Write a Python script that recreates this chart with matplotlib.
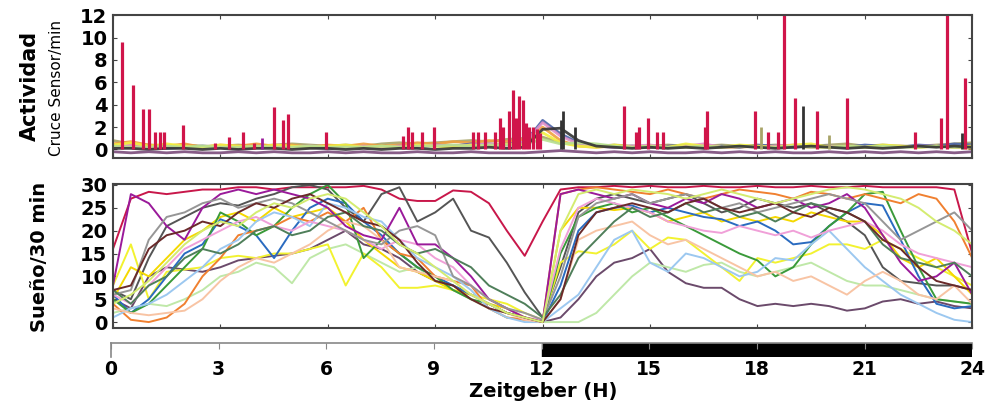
import numpy as np
import matplotlib
matplotlib.use("Agg")
import matplotlib.pyplot as plt

# ---- data -------------------------------------------------------------
hours = np.arange(0, 24.01, 0.5)  # half-hour grid, 49 points

# sleep (min per 30 min), one series per fly
sleep = {
    "#c8174a": [16, 27, 28.5, 28, 28.5, 29, 29, 29.5, 29.5, 29, 29.5, 29.5, 29.5, 29.5, 29.8, 29, 27, 26.5, 26.5, 28.8, 28.5, 26, 20, 14.5,
                22, 29, 29.5, 29.5, 29.8, 29.5, 29.8, 29.5, 29.5, 29.8, 29.5, 29.5, 29.8, 29.5, 29.5, 29.8, 29.5, 29.5, 29.8, 29.5, 29.5, 29.5, 29.5, 29, 15],
    "#555555": [7, 5, 14, 21, 23, 25, 26, 25.5, 27, 28, 29.5, 30, 29, 25, 22, 28, 29.5, 22, 24, 27, 20, 18.5, 13, 6.5,
                1, 12, 24, 27, 28, 27, 26, 27, 28, 26, 24, 25, 27, 26, 25, 26, 24, 22, 19, 12, 9, 8.5, 8, 8, 7],
    "#6b4a6b": [5, 3, 10, 12, 11.5, 11, 12, 13.5, 14, 14.5, 15, 16, 18, 20, 17, 16, 14, 11, 9, 8, 6, 4, 2, 1,
                0, 1, 5, 10, 13, 14, 16, 11, 8.5, 7.5, 7.5, 5, 3.5, 4, 3.5, 4, 3.5, 2.5, 3, 4.5, 5, 4, 4.5, 3.5, 3],
    "#bfe8a8": [2, 3, 4, 3.5, 5, 7, 10, 11, 13, 12, 8.5, 14, 16, 17, 15, 13, 11, 12, 9, 7, 5, 3, 1, 0.5,
                0, 0, 0, 2, 6, 10, 13, 12, 11, 12.5, 13, 11, 10, 11, 12, 13, 11, 9, 8, 8, 7, 6, 5, 4.5, 4],
    "#f2f230": [8, 17, 5, 11, 11.5, 12, 14, 14.5, 14, 15, 15, 16, 17, 8, 15, 12, 7.5, 7.5, 8, 7, 6, 5, 4, 2,
                0.5, 13, 15.5, 15, 17, 20, 16, 18.5, 18, 15, 12, 9, 14, 13, 14, 15, 17, 17, 16, 18, 16, 14, 12, 10, 8],
    "#f5d800": [5, 12, 10, 14, 18, 20, 23, 24, 22, 25, 23, 24, 25, 22, 18, 15, 12, 11, 9, 7, 6, 4, 3, 1,
                0, 20, 25, 25, 24.5, 25, 24, 22, 23, 24, 22, 23, 22, 23, 22, 24, 23, 22, 22, 19, 14, 12, 14, 10, 6],
    "#2a6bc0": [6, 2, 5, 10, 15, 17, 22.5, 21, 19, 14, 20, 25, 27, 26, 22, 19, 15, 12, 10, 8, 6, 4, 2, 1,
                0, 8, 20, 24, 25, 25.5, 24, 25, 24, 23, 22.5, 21, 22, 20, 17, 17.5, 21, 24, 26, 25.5, 18, 10, 4, 3, 3.5],
    "#3a9a3a": [5, 2, 4, 8, 12, 16, 24, 22, 19, 21, 25, 28, 30, 26, 14, 18, 15, 12, 10, 7, 5, 4, 2, 1,
                0, 15, 23, 25, 26, 24, 25, 23, 21, 19, 17, 15, 13.5, 10, 12, 17, 21, 24, 28, 28.5, 20, 12, 5, 4.5, 4],
    "#f08030": [4, 0.5, 0, 1, 4, 10, 14, 19, 20, 21, 23, 22, 24, 22, 25, 18, 15, 14, 10, 9, 8, 3, 1, 0.5,
                0, 28, 29, 29.5, 29, 28.5, 28, 29, 28, 27, 28, 29, 28.5, 28, 27, 28.5, 28, 27, 28, 27, 26, 28, 27, 22, 14],
    "#9cc8f0": [1, 3, 4, 6, 9, 12, 16, 18, 22, 24, 23, 21, 26, 25, 23, 22, 18, 14, 12, 10, 7, 3, 1, 0,
                0, 3, 6, 12, 18, 20, 13, 11, 15, 14, 12, 10, 11, 14, 13.5, 17, 20, 16, 12, 9, 6, 4, 2, 0.5, 0],
    "#f0a0d8": [6, 4, 8, 12, 16, 18, 20, 22, 23, 21, 20, 22, 21, 20, 18, 16, 18, 17, 14, 12, 8, 5, 3, 1,
                0.5, 16, 25, 27, 26, 25, 24, 22, 21, 20, 19.5, 21, 20, 19, 20, 18.5, 20, 21, 22, 20, 17, 15, 14, 13, 12],
    "#f8c4a4": [3, 2, 1.5, 2, 2.5, 5, 9, 12, 14, 13, 15, 17, 20, 22, 21, 18, 12, 11, 10, 9, 6, 4, 2, 0.5,
                0, 5, 18, 20, 21, 22, 19, 17, 18, 16, 14, 12, 10, 11, 9, 10, 8, 6, 9, 11, 9, 6, 5, 8, 4],
    "#9a1a9a": [8, 28, 26, 21, 18, 25, 28, 29, 28, 29, 28, 27, 25, 21, 19, 18, 25, 17, 17, 14, 10, 5, 3, 1,
                0, 28, 29, 28, 27, 28, 26, 25, 27, 26, 28, 27, 25, 26, 27, 25, 26, 28, 25, 19, 13, 9, 10, 13, 6],
    "#969696": [6, 7, 18, 23, 24, 26, 27, 25, 26, 27, 26, 24, 22, 20, 18, 17, 20, 21, 19, 10, 8, 5, 3, 2,
                0.5, 10, 23, 26, 27, 28, 26, 27, 28, 27, 25, 26, 24, 25, 26, 27, 28, 27, 26, 22, 18, 20, 22, 24, 20],
    "#4f7f5a": [7, 4, 8, 10, 14, 16, 15, 17, 20, 21, 19, 20, 23, 24, 21, 20, 17, 15, 16, 14, 12, 8, 6, 4,
                1, 6, 14, 18, 22, 25, 23, 24, 26, 24, 25, 23, 24, 22, 24, 26, 25, 24, 22, 17, 14, 13, 12, 13, 10],
    "#6a2a2a": [7, 8, 16, 19, 20, 22, 21, 24, 26, 25, 27, 28, 26, 24, 22, 21, 18, 13, 9, 8, 5, 3, 2, 1,
                0, 5, 19, 24, 25, 26, 25, 24, 26, 27, 25, 24, 25, 26, 24, 23, 25, 24, 22, 18, 16, 12, 9, 8, 7],
    "#d4ec70": [4, 6, 9, 13, 17, 20, 22, 21, 24, 26, 25, 27, 28, 27, 24, 21, 17, 15, 12, 9, 6, 4, 2, 1,
                0, 20, 28, 29, 28, 29, 28.5, 28, 27, 28, 29, 28, 27, 26, 27, 28, 29, 29.5, 29, 28, 27, 25, 22, 20, 17],
}

# activity baseline (beam crossings / min), half-hour grid
activity = {
    "#a8a468": [0.8, 0.5, 0.4, 0.3, 0.4, 0.3, 0.3, 0.4, 0.3, 0.4, 0.5, 0.4, 0.3, 0.4, 0.3, 0.5, 0.6, 0.5, 0.6, 0.7, 0.8, 0.7, 0.9, 1.0,
                1.1, 0.6, 0.4, 0.3, 0.4, 0.3, 0.3, 0.4, 0.3, 0.3, 0.4, 0.3, 0.3, 0.4, 0.3, 0.3, 0.4, 0.5, 0.3, 0.4, 0.3, 0.3, 0.4, 0.5, 0.6],
    "#f0a040": [0.5, 0.7, 0.4, 0.3, 0.5, 0.2, 0.4, 0.3, 0.5, 0.3, 0.4, 0.2, 0.4, 0.3, 0.5, 0.3, 0.4, 0.6, 0.5, 0.7, 0.6, 0.8, 0.7, 0.9,
                2.0, 0.8, 0.3, 0.2, 0.3, 0.2, 0.2, 0.3, 0.2, 0.3, 0.2, 0.2, 0.3, 0.2, 0.3, 0.2, 0.2, 0.3, 0.2, 0.2, 0.3, 0.2, 0.3, 0.2, 0.1],
    "#4a64a8": [0.3, 0.2, 0.3, 0.1, 0.2, 0.3, 0.2, 0.1, 0.2, 0.3, 0.2, 0.2, 0.1, 0.3, 0.2, 0.2, 0.3, 0.2, 0.4, 0.3, 0.5, 0.4, 0.5, 0.6,
                2.6, 1.4, 0.6, 0.3, 0.2, 0.3, 0.2, 0.3, 0.4, 0.2, 0.3, 0.2, 0.4, 0.3, 0.2, 0.3, 0.3, 0.2, 0.4, 0.3, 0.2, 0.4, 0.3, 0.5, 0.4],
    "#e090c8": [0.2, 0.4, 0.2, 0.3, 0.2, 0.2, 0.3, 0.2, 0.2, 0.3, 0.2, 0.3, 0.2, 0.2, 0.3, 0.2, 0.3, 0.3, 0.4, 0.3, 0.4, 0.5, 0.4, 0.6,
                2.4, 1.2, 0.5, 0.3, 0.2, 0.3, 0.4, 0.2, 0.3, 0.5, 0.2, 0.3, 0.2, 0.3, 0.4, 0.2, 0.3, 0.2, 0.2, 0.3, 0.2, 0.3, 0.3, 0.2, 0.3],
    "#f2f040": [0.4, 0.6, 0.3, 0.5, 0.3, 0.2, 0.4, 0.3, 0.2, 0.4, 0.3, 0.2, 0.3, 0.4, 0.2, 0.3, 0.2, 0.4, 0.3, 0.2, 0.4, 0.3, 0.5, 0.4,
                1.5, 0.6, 0.3, 0.2, 0.4, 0.2, 0.3, 0.2, 0.5, 0.3, 0.2, 0.4, 0.3, 0.2, 0.4, 0.5, 0.2, 0.3, 0.2, 0.4, 0.3, 0.2, 0.3, 0.2, 0.3],
    "#b8e090": [0.3, 0.2, 0.2, 0.3, 0.2, 0.3, 0.2, 0.2, 0.3, 0.2, 0.2, 0.3, 0.2, 0.2, 0.2, 0.3, 0.2, 0.3, 0.3, 0.4, 0.3, 0.4, 0.4, 0.5,
                0.9, 0.5, 0.6, 0.5, 0.3, 0.2, 0.3, 0.2, 0.2, 0.3, 0.2, 0.3, 0.2, 0.2, 0.3, 0.2, 0.2, 0.3, 0.2, 0.3, 0.2, 0.2, 0.3, 0.2, 0.2],
    "#333333": [0.1, 0.1, 0.0, 0.1, 0.1, 0.0, 0.1, 0.0, 0.1, 0.1, 0.0, 0.1, 0.1, 0.0, 0.1, 0.0, 0.1, 0.1, 0.0, 0.1, 0.1, 0.2, 0.1, 0.2,
                1.8, 1.9, 0.8, 0.3, 0.2, 0.1, 0.2, 0.1, 0.2, 0.1, 0.2, 0.3, 0.2, 0.1, 0.2, 0.3, 0.2, 0.1, 0.2, 0.1, 0.2, 0.3, 0.2, 0.3, 0.2],
    "#7a4a7a": [-0.2, -0.3, -0.2, -0.3, -0.2, -0.3, -0.3, -0.2, -0.3, -0.2, -0.3, -0.3, -0.2, -0.3, -0.2, -0.3, -0.3, -0.2, -0.3, -0.3, -0.2, -0.3, -0.3, -0.3,
                -0.2, -0.1, -0.2, -0.3, -0.2, -0.3, -0.2, -0.3, -0.3, -0.2, -0.3, -0.2, -0.3, -0.2, -0.3, -0.3, -0.2, -0.3, -0.2, -0.3, -0.2, -0.3, -0.2, -0.3, -0.2],
}

# large activity bouts of the red fly: time (h) and peak height
red_spike_t = [0.25, 0.56, 0.83, 1.0, 1.17, 1.3, 1.43, 1.95, 2.84, 3.23, 3.62, 3.95, 4.5, 4.74, 4.9, 5.95,
               8.1, 8.24, 8.35, 8.63, 8.97, 10.06, 10.2, 10.4, 10.67, 10.8, 10.9, 11.06, 11.17, 11.26, 11.35,
               11.45, 11.54, 11.63, 11.73, 11.85, 11.93, 14.28, 14.6, 14.7, 14.95, 15.2, 15.36, 16.54, 16.6,
               17.94, 18.3, 18.58, 18.75, 19.06, 19.67, 20.5, 22.4, 23.14, 23.3, 23.8]
red_spike_h = [9.6, 5.8, 3.6, 3.6, 1.6, 1.6, 1.6, 2.2, 0.6, 1.1, 1.6, 0.6, 3.8, 2.6, 3.2, 1.6,
               1.2, 2.0, 1.6, 1.6, 2.0, 1.6, 1.6, 1.6, 1.6, 2.8, 2.0, 3.4, 5.3, 2.8, 4.8,
               4.4, 2.4, 2.0, 2.0, 1.8, 1.5, 3.9, 1.6, 2.0, 2.8, 1.6, 1.6, 2.0, 3.4,
               3.4, 1.6, 1.6, 12.5, 4.6, 3.4, 4.6, 1.6, 2.8, 12.5, 6.4]
dark_spike_t = [4.15, 12.5, 12.58, 12.9, 18.1, 19.28, 20.0, 23.7]
dark_spike_h = [1.0, 2.6, 3.4, 2.0, 2.0, 3.9, 1.3, 1.5]
dark_spike_c = ["#9a1a9a", "#333333", "#333333", "#333333", "#a8a468", "#333333", "#a8a468", "#333333"]

xticks = [0, 3, 6, 9, 12, 15, 18, 21, 24]
light_phase = (0, 12)
dark_phase = (12, 24)

# ---- figure -----------------------------------------------------------
plt.rcParams["font.family"] = "DejaVu Sans"
spine_c = "#444444"

fig = plt.figure(figsize=(9.98, 4.09), dpi=100)
ax1 = fig.add_axes([0.1132, 0.614, 0.861, 0.349])
ax2 = fig.add_axes([0.1132, 0.198, 0.861, 0.352])
ax3 = fig.add_axes([0.1112, 0.127, 0.863, 0.034])

# activity
for c, vals in activity.items():
    ax1.plot(hours, vals, color=c, lw=2.0, alpha=0.9)
ax1.vlines(red_spike_t, 0, red_spike_h, color="#d0154a", lw=2.3)
ax1.vlines(dark_spike_t, 0, dark_spike_h, colors=dark_spike_c, lw=2.0)
ax1.set_ylim(-0.75, 12)
ax1.set_yticks(range(0, 13, 2))

# sleep
for c, vals in sleep.items():
    ax2.plot(hours, vals, color=c, lw=1.4)
ax2.set_ylim(-1.3, 30.2)
ax2.set_yticks(range(0, 31, 5))

for ax in (ax1, ax2):
    ax.set_xlim(0, 24)
    ax.set_xticks(xticks)
    ax.tick_params(direction="in", length=3, width=0.8, color=spine_c,
                   top=True, right=True, labelbottom=False)
    ax.tick_params(axis="y", labelsize=14, pad=4)
    for lab in ax.get_yticklabels():
        lab.set_fontweight("bold")
    for s in ax.spines.values():
        s.set_color(spine_c)
        s.set_linewidth(1.5)

# light / dark bar
ax3.axvspan(*light_phase, color="white")
ax3.axvspan(*dark_phase, color="black")
ax3.set_xlim(0, 24)
ax3.set_ylim(0, 1)
ax3.set_yticks([])
ax3.set_xticks(xticks)
for side in ("right", "bottom"):
    ax3.spines[side].set_visible(False)
for side in ("top", "left"):
    ax3.spines[side].set_color("#888888")
    ax3.spines[side].set_linewidth(1.2)
ax3.tick_params(axis="x", direction="in", length=4, color="#888888",
                top=True, bottom=False, labelbottom=True, pad=2)
for lab in ax3.get_xticklabels():
    lab.set_fontweight("bold")
    lab.set_fontsize(13.5)

fig.text(0.544, 0.066, "Zeitgeber (H)", ha="center", va="top", fontsize=14,
         fontweight="bold")
fig.text(0.030, 0.790, "Actividad", rotation=90, ha="center", va="center",
         fontsize=15, fontweight="bold")
fig.text(0.057, 0.785, "Cruce Sensor/min", rotation=90, ha="center", va="center",
         fontsize=11)
fig.text(0.040, 0.372, "Sueño/30 min", rotation=90, ha="center", va="center",
         fontsize=14, fontweight="bold")

fig.savefig("out.png", dpi=100)
